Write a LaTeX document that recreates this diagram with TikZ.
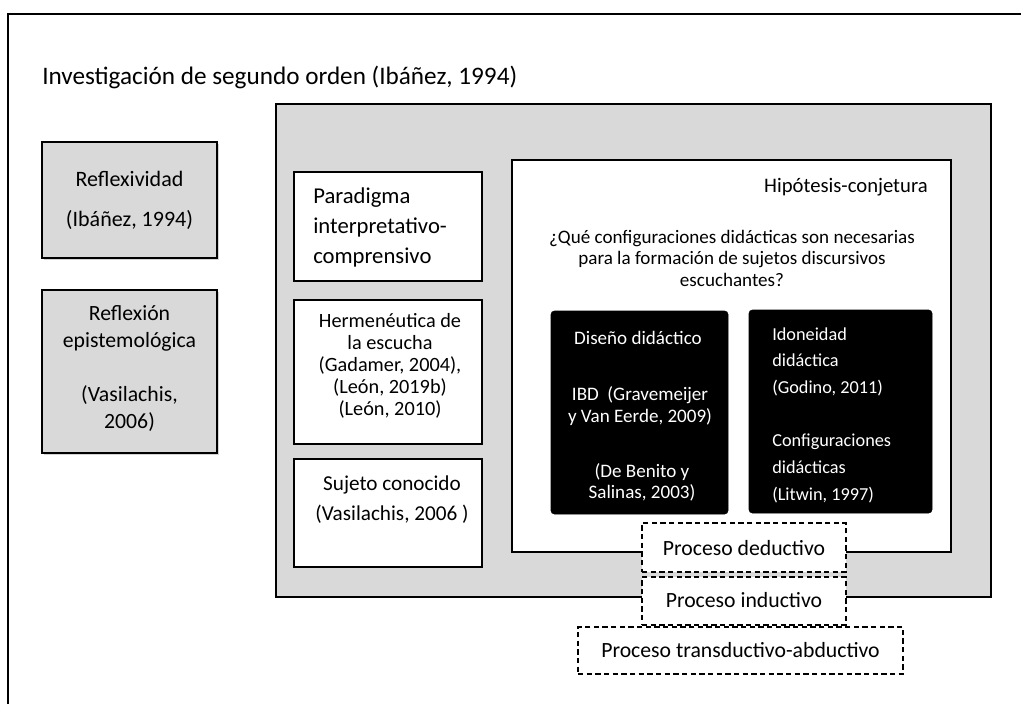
\documentclass[tikz,border=0pt]{standalone}
\usepackage{fontspec}
\setmainfont{Carlito}
\usetikzlibrary{shadows}
\definecolor{boxgray}{HTML}{D9D9D9}
\begin{document}
\begin{tikzpicture}[x=0.75pt,y=-0.75pt,
  box/.style={draw=black, line width=1pt, inner sep=0pt},
  graybox/.style={box, fill=boxgray, drop shadow={shadow xshift=1.5pt, shadow yshift=-1.5pt, opacity=0.35}},
  whitebox/.style={box, fill=white, drop shadow={shadow xshift=1pt, shadow yshift=-1pt, opacity=0.25}},
  blackbox/.style={draw=black, fill=black, rounded corners=2.5pt, inner sep=0pt},
  dashbox/.style={draw=black, fill=white, line width=1pt, dash pattern=on 4pt off 2.5pt, inner sep=0pt},
  txt/.style={inner sep=0pt, font=\fontsize{14.3}{16.1}\selectfont},
  wtxt/.style={txt, text=white},
  proc/.style={txt, font=\fontsize{16.3}{19}\selectfont}
]
\useasboundingbox (0,0) rectangle (1021,704);
% outer frame
\coordinate (fa) at (8,704);
\coordinate (fb) at (8,14);
\coordinate (fc) at (1021,14);
\draw[line width=1.5pt] (fa) -- (fb) -- (fc);
% title
\node[txt, anchor=base west, font=\fontsize{18.9}{22}\selectfont] (title) at (42,84) {Investigación de segundo orden (Ibáñez, 1994)};
% left boxes
\node[graybox, minimum width=131.25pt, minimum height=87pt] (refl) at (129.5,200) {};
\node[txt, align=center, font=\fontsize{16.5}{30}\selectfont] (reflt) at (129.5,200) {Reflexividad\\(Ibáñez, 1994)};
\node[graybox, minimum width=131.25pt, minimum height=122.25pt] (refx) at (129.5,371.5) {};
\node[txt, align=center, font=\fontsize{16.3}{20.25}\selectfont] (refxt) at (129.5,369) {Reflexión\\epistemológica\\\mbox{}\\(Vasilachis,\\2006)};
% main gray box
\node[box, fill=boxgray, minimum width=536.25pt, minimum height=369.75pt] (main) at (633.5,350.5) {};
% white boxes
\node[whitebox, minimum width=141pt, minimum height=81.75pt] (parad) at (388,226.5) {};
\node[txt, align=left, anchor=west, font=\fontsize{17}{22.5}\selectfont] (paradt) at (313,227) {Paradigma\\interpretativo-\\comprensivo};
\node[whitebox, minimum width=141pt, minimum height=108pt] (herm) at (388,372) {};
\node[txt, align=center, font=\fontsize{15.2}{16.5}\selectfont] (hermt) at (390,366) {Hermenéutica de\\la escucha\\(Gadamer, 2004),\\(León, 2019b)\\(León, 2010)};
\node[whitebox, minimum width=141pt, minimum height=81pt] (suj) at (388,513) {};
\node[txt, align=center, font=\fontsize{15.9}{22.5}\selectfont] (sujt) at (392,500) {Sujeto conocido\\(Vasilachis, 2006 )};
% hypothesis box
\node[box, fill=white, minimum width=329.25pt, minimum height=294pt] (hipo) at (731.5,356) {};
\node[txt, anchor=east, font=\fontsize{15.5}{18}\selectfont] (hipot) at (928,187) {Hipótesis-conjetura};
\node[txt, align=center, font=\fontsize{14.3}{16.1}\selectfont] (quest) at (732,258) {¿Qué configuraciones didácticas son necesarias\\para la formación de sujetos discursivos\\escuchantes?};
% black boxes
\node[blackbox, minimum width=132.75pt, minimum height=152.25pt] (dis) at (639.5,412.5) {};
\node[wtxt] (dist) at (638,338) {Diseño didáctico};
\node[wtxt, align=center, font=\fontsize{14.3}{16.5}\selectfont] (ibd) at (640,406) {IBD\ \ (Gravemeijer\\y Van Eerde, 2009)};
\node[wtxt, align=center, font=\fontsize{14.3}{16}\selectfont] (ben) at (642,482.5) {(De Benito y\\Salinas, 2003)};
\node[blackbox, minimum width=137.25pt, minimum height=152.25pt] (ido) at (840.5,411.5) {};
\node[wtxt, align=left, anchor=west, font=\fontsize{13.7}{20}\selectfont] (idot) at (772,415) {Idoneidad\\didáctica\\(Godino, 2011)\\\mbox{}\\Configuraciones\\didácticas\\(Litwin, 1997)};
% process boxes
\node[dashbox, minimum width=153pt, minimum height=36.75pt] (ded) at (744,547.5) {};
\node[proc] (dedt) at (744,548) {Proceso deductivo};
\node[dashbox, minimum width=153pt, minimum height=36pt] (ind) at (744,601) {};
\node[proc] (indt) at (744,600) {Proceso inductivo};
\node[dashbox, minimum width=243.75pt, minimum height=35.25pt] (tra) at (740.5,650.5) {};
\node[proc] (trat) at (740.5,650) {Proceso transductivo-abductivo};
\end{tikzpicture}
\end{document}
